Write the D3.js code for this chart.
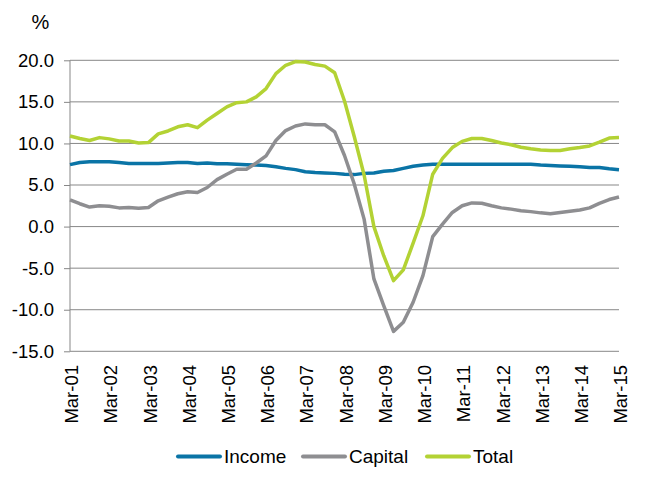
<!DOCTYPE html>
<html>
<head>
<meta charset="utf-8">
<script src="https://cdn.jsdelivr.net/npm/d3@7"></script>
<style>
  body { margin: 0; background: #fff; }
  svg { display: block; font-family: "Liberation Sans", Arial, sans-serif; }
</style>
</head>
<body>
<svg id="chart" width="666" height="486"></svg>
<script>
// quarterly returns, Mar-01 .. Mar-15
const income = [7.45, 7.7, 7.8, 7.8, 7.8, 7.7, 7.6, 7.6, 7.6, 7.6, 7.65, 7.7, 7.7, 7.6,
  7.65, 7.55, 7.55, 7.5, 7.45, 7.4, 7.35, 7.2, 7.0, 6.85, 6.6, 6.5, 6.45, 6.4,
  6.3, 6.25, 6.4, 6.45, 6.65, 6.75, 7.0, 7.25, 7.4, 7.5, 7.5, 7.5, 7.5, 7.5,
  7.5, 7.5, 7.5, 7.5, 7.5, 7.5, 7.4, 7.35, 7.3, 7.25, 7.2, 7.1, 7.1, 6.95, 6.85];
const capital = [3.2, 2.75, 2.35, 2.5, 2.45, 2.25, 2.3, 2.2, 2.3, 3.1, 3.55, 3.95, 4.2, 4.1,
  4.7, 5.65, 6.3, 6.9, 6.9, 7.65, 8.5, 10.35, 11.55, 12.1, 12.35, 12.25, 12.25, 11.4,
  8.55, 5.1, 0.9, -6.3, -9.5, -12.6, -11.5, -9.1, -5.9, -1.2, 0.3, 1.7, 2.5, 2.85,
  2.8, 2.5, 2.25, 2.1, 1.9, 1.8, 1.65, 1.55, 1.7, 1.85, 2.0, 2.25, 2.8, 3.25, 3.55];
const total = [10.9, 10.6, 10.35, 10.7, 10.55, 10.3, 10.3, 10.05, 10.1, 11.15, 11.5, 12.0, 12.25, 11.9,
  12.8, 13.6, 14.4, 14.9, 15.0, 15.6, 16.6, 18.4, 19.4, 19.85, 19.8, 19.5, 19.3, 18.5,
  15.1, 10.8, 6.2, 0.0, -3.5, -6.5, -5.2, -2.0, 1.3, 6.3, 8.2, 9.5, 10.25, 10.6,
  10.6, 10.35, 10.05, 9.85, 9.55, 9.35, 9.2, 9.15, 9.15, 9.35, 9.5, 9.7, 10.15, 10.65, 10.7];
const yTicks = [-15, -10, -5, 0, 5, 10, 15, 20];
const xLabels = ["Mar-01", "Mar-02", "Mar-03", "Mar-04", "Mar-05", "Mar-06", "Mar-07",
  "Mar-08", "Mar-09", "Mar-10", "Mar-11", "Mar-12", "Mar-13", "Mar-14", "Mar-15"];

const series = [
  {name: "Income", values: income, color: "#0a74a6"},
  {name: "Capital", values: capital, color: "#8e8e91"},
  {name: "Total", values: total, color: "#b3d234"}
];

const svg = d3.select("#chart");
const plotLeft = 70, plotRight = 619, plotTop = 60.3, plotBottom = 351.3;

const x = d3.scaleLinear().domain([0, income.length - 1]).range([plotLeft, plotRight]);
const y = d3.scaleLinear().domain([-15, 20]).range([plotBottom, plotTop]);

// gridlines
svg.append("g")
  .selectAll("line")
  .data(yTicks)
  .enter().append("line")
    .attr("x1", plotLeft).attr("x2", plotRight)
    .attr("y1", d => y(d)).attr("y2", d => y(d))
    .attr("stroke", "#878787")
    .attr("stroke-width", 1);

// y axis
const yAxis = svg.append("g")
  .attr("transform", "translate(" + plotLeft + ",0)")
  .call(d3.axisLeft(y).tickValues(yTicks).tickSize(6).tickPadding(10)
    .tickFormat(d => d.toFixed(1)));
yAxis.selectAll("line, path").attr("stroke", "#878787");
yAxis.select(".domain").attr("d", "M0," + plotTop + "V" + plotBottom);
yAxis.selectAll("text")
  .attr("fill", "#000")
  .style("font-size", "18.5px")
  .style("font-family", "Liberation Sans, Arial, sans-serif");

svg.append("text")
  .attr("x", 40.5).attr("y", 29)
  .attr("text-anchor", "middle")
  .style("font-size", "20px")
  .text("%");

// x labels, one per March
svg.append("g")
  .selectAll("text")
  .data(xLabels)
  .enter().append("text")
    .attr("transform", (d, i) => "translate(" + (x(i * 4) + 1.5) + "," + 365 + ") rotate(-90)")
    .attr("text-anchor", "end")
    .attr("dy", "0.36em")
    .style("font-size", "18.5px")
    .text(d => d);

// lines
const line = d3.line()
  .x((d, i) => x(i))
  .y(d => y(d));

svg.append("g")
  .selectAll("path")
  .data(series)
  .enter().append("path")
    .attr("d", d => line(d.values))
    .attr("fill", "none")
    .attr("stroke", d => d.color)
    .attr("stroke-width", 3.5)
    .attr("stroke-linejoin", "round");

// legend
const legendX = [178, 303, 427];
const legend = svg.append("g")
  .selectAll("g")
  .data(series)
  .enter().append("g")
    .attr("transform", (d, i) => "translate(" + legendX[i] + ",456.5)");
legend.append("line")
  .attr("x1", 0).attr("x2", 42)
  .attr("stroke", d => d.color)
  .attr("stroke-width", 4)
  .attr("stroke-linecap", "round");
legend.append("text")
  .attr("x", 46)
  .attr("dy", "0.36em")
  .style("font-size", "19px")
  .text(d => d.name);
</script>
</body>
</html>
